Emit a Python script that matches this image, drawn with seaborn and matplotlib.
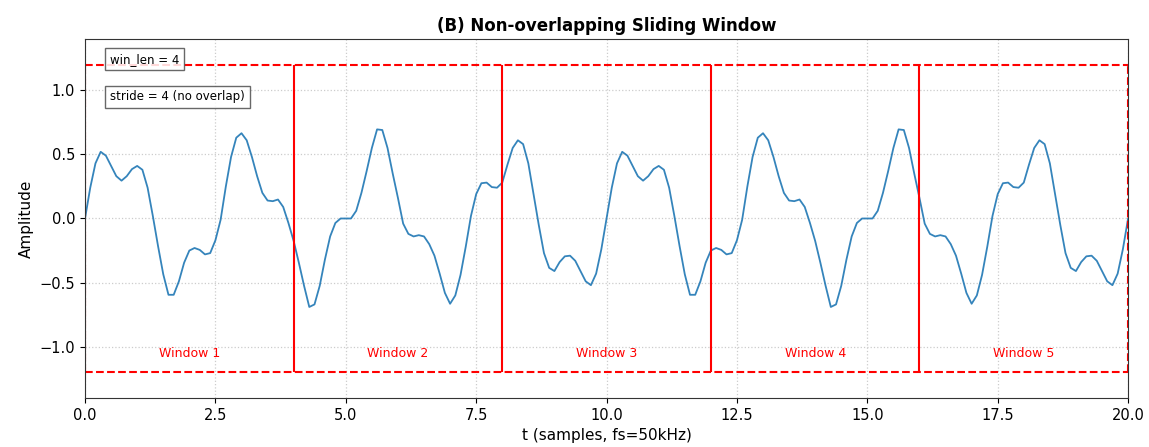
import matplotlib
matplotlib.use("Agg")
import matplotlib.pyplot as plt
import seaborn as sns
import pandas as pd

# signal samples, t step 0.1 (0 .. 20)
t = [i / 10 for i in range(201)]
amplitude = [
    0.00, 0.24, 0.43, 0.52, 0.49, 0.41, 0.33, 0.295, 0.33, 0.385,
    0.41, 0.38, 0.24, 0.02, -0.215, -0.435, -0.595, -0.595, -0.49, -0.345,
    -0.25, -0.23, -0.245, -0.28, -0.27, -0.17, -0.01, 0.25, 0.48, 0.63,
    0.665, 0.61, 0.48, 0.33, 0.20, 0.14, 0.135, 0.148, 0.09, -0.035,
    -0.175, -0.345, -0.525, -0.69, -0.67, -0.525, -0.32, -0.14, -0.035, 0.00,
    0.00, 0.00, 0.06, 0.20, 0.37, 0.55, 0.695, 0.69, 0.55, 0.35,
    0.16, -0.04, -0.12, -0.14, -0.13, -0.14, -0.20, -0.29, -0.43, -0.58,
    -0.665, -0.60, -0.44, -0.22, 0.02, 0.19, 0.275, 0.28, 0.245, 0.24,
    0.28, 0.42, 0.55, 0.61, 0.58, 0.43, 0.19, -0.05, -0.27, -0.385,
    -0.41, -0.34, -0.295, -0.29, -0.33, -0.41, -0.49, -0.52, -0.43, -0.24,
    0.00, 0.24, 0.43, 0.52, 0.49, 0.41, 0.33, 0.295, 0.33, 0.385,
    0.41, 0.38, 0.24, 0.02, -0.215, -0.435, -0.595, -0.595, -0.49, -0.345,
    -0.25, -0.23, -0.245, -0.28, -0.27, -0.17, -0.01, 0.25, 0.48, 0.63,
    0.665, 0.61, 0.48, 0.33, 0.20, 0.14, 0.135, 0.148, 0.09, -0.035,
    -0.175, -0.345, -0.525, -0.69, -0.67, -0.525, -0.32, -0.14, -0.035, 0.00,
    0.00, 0.00, 0.06, 0.20, 0.37, 0.55, 0.695, 0.69, 0.55, 0.35,
    0.16, -0.04, -0.12, -0.14, -0.13, -0.14, -0.20, -0.29, -0.43, -0.58,
    -0.665, -0.60, -0.44, -0.22, 0.02, 0.19, 0.275, 0.28, 0.245, 0.24,
    0.28, 0.42, 0.55, 0.61, 0.58, 0.43, 0.19, -0.05, -0.27, -0.385,
    -0.41, -0.34, -0.295, -0.29, -0.33, -0.41, -0.49, -0.52, -0.43, -0.24,
    0.00,
]

win_len = 4
stride = 4
window_starts = [0, 4, 8, 12, 16]
window_labels = ["Window 1", "Window 2", "Window 3", "Window 4", "Window 5"]
box_half_height = 1.2

df = pd.DataFrame({"t": t, "amplitude": amplitude})

sns.set_style("ticks")
plt.rcParams.update({"text.color": "black", "axes.labelcolor": "black",
                     "xtick.color": "black", "ytick.color": "black",
                     "axes.edgecolor": "0.2"})
fig = plt.figure(figsize=(11.49, 4.47), dpi=100)
ax = fig.add_axes([0.074, 0.1096, 0.9078, 0.8032])

sns.lineplot(data=df, x="t", y="amplitude", ax=ax, color="#1f77b4", linewidth=1.3, alpha=0.9)

# window boxes: dashed top/bottom, solid boundaries between windows
win_end = window_starts[-1] + win_len
ax.hlines([box_half_height, -box_half_height], window_starts[0], win_end,
          colors="red", linestyles="--", linewidth=1.5)
ax.vlines([window_starts[0], win_end], -box_half_height, box_half_height,
          colors="red", linestyles="--", linewidth=1.5)
ax.vlines(window_starts[1:], -box_half_height, box_half_height,
          colors="red", linestyles="-", linewidth=1.5)

for start, label in zip(window_starts, window_labels):
    ax.text(start + win_len / 2, -1.05, label, color="red", fontsize=9,
            ha="center", va="center")

ax.text(0.024, 0.962, f"win_len = {win_len}", transform=ax.transAxes, fontsize=8.5,
        va="top", ha="left",
        bbox=dict(boxstyle="square,pad=0.4", fc="white", ec="0.3", alpha=0.85))
ax.text(0.024, 0.857, f"stride = {stride} (no overlap)", transform=ax.transAxes, fontsize=8.5,
        va="top", ha="left",
        bbox=dict(boxstyle="square,pad=0.4", fc="white", ec="0.3", alpha=0.85))

ax.set_xlim(0, 20)
ax.set_ylim(-1.4, 1.4)
ax.set_xticks([0, 2.5, 5, 7.5, 10, 12.5, 15, 17.5, 20])
ax.set_yticks([-1.0, -0.5, 0.0, 0.5, 1.0])
ax.tick_params(labelsize=10.5)
ax.grid(True, linestyle=":", color="0.8", linewidth=0.9)

ax.set_title("(B) Non-overlapping Sliding Window", fontsize=12, fontweight="bold")
ax.set_xlabel("t (samples, fs=50kHz)", fontsize=11)
ax.set_ylabel("Amplitude", fontsize=11)

fig.savefig("out.png", dpi=100)
